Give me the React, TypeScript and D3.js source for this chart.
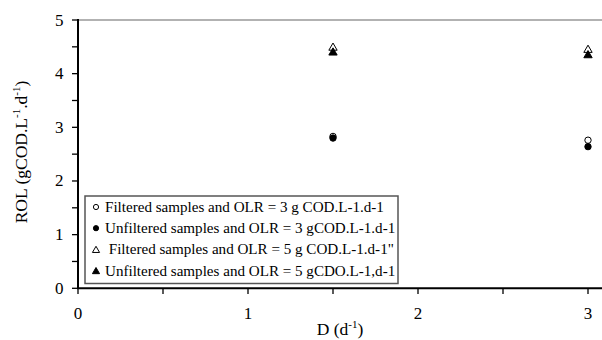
import React from "react";
import * as d3 from "d3";

const xValues = [1.5, 3];
const filtered3 = [2.83, 2.76];
const unfiltered3 = [2.8, 2.64];
const filtered5 = [4.5, 4.46];
const unfiltered5 = [4.41, 4.36];
const legendLabels = [
  "Filtered samples and OLR = 3 g COD.L-1.d-1",
  "Unfiltered samples and OLR = 3 gCOD.L-1.d-1",
  " Filtered samples and OLR = 5 g COD.L-1.d-1\"",
  "Unfiltered samples and OLR = 5 gCDO.L-1,d-1",
];
const xTicks = [0, 1, 2, 3];
const yTicks = [0, 1, 2, 3, 4, 5];

const font = "'Liberation Serif', 'Times New Roman', serif";

export default function App() {
  const W = 602, H = 340;
  const x = d3.scaleLinear().domain([0, 3]).range([78, 588]);
  const y = d3.scaleLinear().domain([0, 5]).range([288.3, 20]);
  const series = [
    { vals: filtered3, shape: "circle", fill: "white" },
    { vals: unfiltered3, shape: "circle", fill: "black" },
    { vals: filtered5, shape: "triangle", fill: "white" },
    { vals: unfiltered5, shape: "triangle", fill: "black" },
  ];
  const tri = d3.symbol().type(d3.symbolTriangle).size(30);
  const triSmall = d3.symbol().type(d3.symbolTriangle).size(22);
  const marker = (shape: string, fill: string, cx: number, cy: number, small = false, key?: any) =>
    shape === "circle" ? (
      <circle key={key} cx={cx} cy={cy} r={small ? 2.6 : 3.2} fill={fill} stroke="black" strokeWidth={1} />
    ) : (
      <path key={key} d={(small ? triSmall : tri)() as string} transform={`translate(${cx},${cy + 1})`} fill={fill} stroke="black" strokeWidth={1} />
    );
  const minorY = d3.range(0, 5.01, 0.5);
  const minorX = d3.range(0, 3.01, 0.5);
  return (
    <svg width={W} height={H} style={{ position: "absolute", left: 0, top: 0 }} fontFamily={font}>
      <rect width={W} height={H} fill="white" />
      <line x1={78} x2={602} y1={20} y2={20} stroke="#666" strokeWidth={1.2} />
      {/* y axis */}
      <line x1={78} x2={78} y1={19} y2={289} stroke="black" strokeWidth={2} />
      {minorY.map((v, i) => (
        <line key={"yt" + i} x1={72} x2={78} y1={y(v)} y2={y(v)} stroke="black" strokeWidth={1.3} />
      ))}
      {yTicks.map((v) => (
        <text key={"yl" + v} x={63.5} y={y(v) + 5.5} textAnchor="end" fontSize={17}>{v}</text>
      ))}
      {/* x axis */}
      <line x1={77} x2={602} y1={288.3} y2={288.3} stroke="black" strokeWidth={2} />
      {minorX.map((v, i) => (
        <line key={"xt" + i} x1={x(v)} x2={x(v)} y1={288} y2={294} stroke="black" strokeWidth={1.3} />
      ))}
      {xTicks.map((v) => (
        <text key={"xl" + v} x={x(v)} y={319} textAnchor="middle" fontSize={17}>{v}</text>
      ))}
      <text x={340} y={335} textAnchor="middle" fontSize={17.5}>
        D (d<tspan dy={-7} fontSize={11}>-1</tspan><tspan dy={7}>)</tspan>
      </text>
      <text transform="translate(27,152) rotate(-90)" textAnchor="middle" fontSize={17.5}>
        ROL (gCOD.L<tspan dy={-7} fontSize={11}>-1</tspan><tspan dy={7}>.d</tspan>
        <tspan dy={-7} fontSize={11}>-1</tspan><tspan dy={7}>)</tspan>
      </text>
      {/* data */}
      {series.map((s, si) =>
        s.vals.map((v, i) => marker(s.shape, s.fill, x(xValues[i]), y(v), false, `p${si}-${i}`))
      )}
      {/* legend */}
      <rect x={85} y={196} width={313} height={87.5} fill="white" stroke="#555" strokeWidth={1.5} />
      {legendLabels.map((l, i) => {
        const cy = 207 + i * 21.2;
        return (
          <g key={"lg" + i}>
            {marker(series[i].shape, series[i].fill, 96, cy, true)}
            <text x={105} y={cy + 5} fontSize={15.1} style={{ whiteSpace: "pre" }}>{l}</text>
          </g>
        );
      })}
    </svg>
  );
}
